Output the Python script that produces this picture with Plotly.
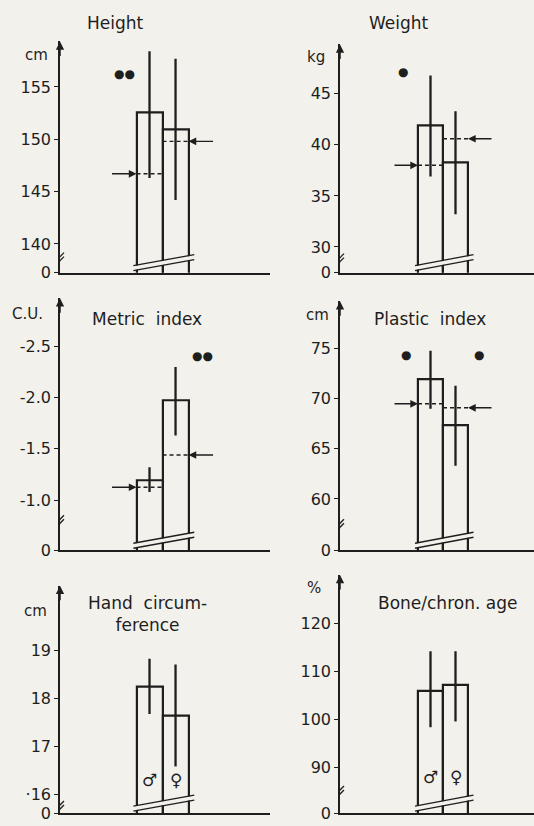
import plotly.graph_objects as go

W, H = 534, 826
BG = "#f3f1eb"
INK = "#1e1e1e"
FONT = "DejaVu Sans"

# ---------------- data ----------------
sexes = ["♂", "♀"]
bar_x = [0, 1]

height_mean = [152.6, 150.9]
height_hi = [158.4, 157.7]
height_lo = [146.3, 144.2]
height_ref = [146.7, 149.8]
height_ticks = [140, 145, 150, 155]
height_labels = ["140", "145", "150", "155"]

weight_mean = [41.9, 38.3]
weight_hi = [46.8, 43.3]
weight_lo = [36.9, 33.2]
weight_ref = [38.0, 40.6]
weight_ticks = [30, 35, 40, 45]
weight_labels = ["30", "35", "40", "45"]

metric_mean = [-1.19, -1.97]
metric_hi = [-1.32, -2.30]
metric_lo = [-1.08, -1.63]
metric_ref = [-1.125, -1.44]
metric_ticks = [-1.0, -1.5, -2.0, -2.5]
metric_labels = ["-1.0", "-1.5", "-2.0", "-2.5"]

plastic_mean = [71.9, 67.4]
plastic_hi = [74.8, 71.3]
plastic_lo = [69.0, 63.3]
plastic_ref = [69.5, 69.1]
plastic_ticks = [60, 65, 70, 75]
plastic_labels = ["60", "65", "70", "75"]

hand_mean = [18.23, 17.63]
hand_hi = [18.82, 18.70]
hand_lo = [17.67, 16.58]
hand_ticks = [16, 17, 18, 19]
hand_labels = ["·16", "17", "18", "19"]

bone_mean = [105.9, 107.2]
bone_hi = [114.2, 114.2]
bone_lo = [98.4, 99.6]
bone_ticks = [90, 100, 110, 120]
bone_labels = ["90", "100", "110", "120"]

# significance marks: (x position in bar units, value, symbol)
height_sig = [(-0.95, 156.2, "●●")]
weight_sig = [(-1.1, 47.1, "●")]
metric_sig = [(2.05, -2.41, "●●")]
plastic_sig = [(-1.0, 74.4, "●"), (1.95, 74.4, "●")]

# ---------------- layout of panels (pixels) ----------------
LEFT_X = (60, 270, [-3.44, 4.63])
RIGHT_X = (340, 534, [-3.62, 4.14])

panels = [
    dict(title="Height", unit="cm", mean=height_mean, hi=height_hi, lo=height_lo,
         ref=height_ref, ticks=height_ticks, labels=height_labels,
         yr=[137.26, 159.34], xs=LEFT_X, ypx=(42, 276), title_xy=(115, 23),
         unit_xy=(36, 56), sig=height_sig, sym=False, ybreak=14),
    dict(title="Weight", unit="kg", mean=weight_mean, hi=weight_hi, lo=weight_lo,
         ref=weight_ref, ticks=weight_ticks, labels=weight_labels,
         yr=[27.48, 49.84], xs=RIGHT_X, ypx=(45, 276), title_xy=(399, 23),
         unit_xy=(316, 58), sig=weight_sig, sym=False, ybreak=13),
    dict(title="Metric  index", unit="C.U.", mean=metric_mean, hi=metric_hi, lo=metric_lo,
         ref=metric_ref, ticks=metric_ticks, labels=metric_labels,
         yr=[-0.51, -2.97], xs=LEFT_X, ypx=(302, 557), title_xy=(147, 323),
         unit_xy=(27, 318), sig=metric_sig, sym=False, ybreak=29),
    dict(title="Plastic  index", unit="cm", mean=plastic_mean, hi=plastic_hi, lo=plastic_lo,
         ref=plastic_ref, ticks=plastic_ticks, labels=plastic_labels,
         yr=[54.87, 79.74], xs=RIGHT_X, ypx=(305, 557), title_xy=(430, 323),
         unit_xy=(317, 319), sig=plastic_sig, sym=False, ybreak=25),
    dict(title="Hand  circum-<br>ference", unit="cm", mean=hand_mean, hi=hand_hi, lo=hand_lo,
         ref=None, ticks=hand_ticks, labels=hand_labels,
         yr=[15.61, 20.34], xs=LEFT_X, ypx=(593, 823), title_xy=(147, 622),
         unit_xy=(35, 618), sig=[], sym=33, ybreak=6),
    dict(title="Bone/chron. age", unit="%", mean=bone_mean, hi=bone_hi, lo=bone_lo,
         ref=None, ticks=bone_ticks, labels=bone_labels,
         yr=[80.55, 130.07], xs=RIGHT_X, ypx=(582, 823), title_xy=(447, 610),
         unit_xy=(314, 595), sig=[], sym=36, ybreak=21),
]

fig = go.Figure()
annotations = []
shapes = []
layout_axes = {}

for i, p in enumerate(panels, start=1):
    xn = "x" if i == 1 else f"x{i}"
    yn = "y" if i == 1 else f"y{i}"
    xl = "xaxis" if i == 1 else f"xaxis{i}"
    yl = "yaxis" if i == 1 else f"yaxis{i}"
    x0px, x1px, xr = p["xs"]
    t_px, b_px = p["ypx"]
    yr = p["yr"]

    up = [max(h, l) - m for h, l, m in zip(p["hi"], p["lo"], p["mean"])]
    dn = [m - min(h, l) for h, l, m in zip(p["hi"], p["lo"], p["mean"])]
    fig.add_trace(go.Bar(
        x=bar_x, y=p["mean"], width=1, xaxis=xn, yaxis=yn, showlegend=False,
        marker=dict(color=BG, line=dict(color=INK, width=2.2)),
        error_y=dict(type="data", array=up, arrayminus=dn, symmetric=False,
                     width=0, thickness=2.3, color=INK),
        hovertext=sexes,
    ))

    # reference values: dashed line over the bar + arrow pointing at it
    if p["ref"] is not None:
        for j, r in enumerate(p["ref"]):
            fig.add_trace(go.Scatter(
                x=[bar_x[j] - 0.5, bar_x[j] + 0.5], y=[r, r], mode="lines",
                xaxis=xn, yaxis=yn, showlegend=False, hoverinfo="skip",
                line=dict(color=INK, width=1.4, dash="4px,3px"),
            ))
            side = -1 if j == 0 else 1
            edge = bar_x[j] + side * 0.5
            annotations.append(dict(
                x=edge, y=r, xref=xn, yref=yn, ax=edge + side * 1.0, ay=r,
                axref=xn, ayref=yn, text="", showarrow=True, arrowhead=2,
                arrowsize=1.1, arrowwidth=1.4, arrowcolor=INK, standoff=0,
            ))

    # significance dots
    for sx, sy, st in p["sig"]:
        annotations.append(dict(x=sx, y=sy, xref=xn, yref=yn, text=st, showarrow=False,
                                font=dict(size=12, color=INK, family=FONT)))

    # sex symbols inside bars
    if p["sym"]:
        for j, s in enumerate(sexes):
            annotations.append(dict(x=bar_x[j], y=yr[0], xref=xn, yref=yn, text=s,
                                    yshift=p["sym"], showarrow=False,
                                    font=dict(size=17, color=INK, family=FONT)))

    # title and unit
    tx, ty = p["title_xy"]
    annotations.append(dict(x=tx / W, y=1 - ty / H, xref="paper", yref="paper",
                            text=p["title"], showarrow=False, xanchor="center",
                            yanchor="middle", font=dict(size=17, color=INK, family=FONT)))
    ux, uy = p["unit_xy"]
    annotations.append(dict(x=ux / W, y=1 - uy / H, xref="paper", yref="paper",
                            text=p["unit"], showarrow=False, xanchor="center",
                            yanchor="middle", font=dict(size=15, color=INK, family=FONT)))

    # arrow head on top of the y axis
    annotations.append(dict(x=xr[0], y=yr[1], xref=xn, yref=yn, ax=0, ay=16,
                            text="", showarrow=True, arrowhead=2, arrowsize=1.1,
                            arrowwidth=1.5, arrowcolor=INK, standoff=0))

    # small extension of the x axis to the left of the y axis
    shapes.append(dict(type="line", xref=xn, yref=yn, xsizemode="pixel",
                       xanchor=xr[0], x0=-5, x1=0, y0=yr[0], y1=yr[0],
                       line=dict(color=INK, width=1.5)))

    # broken-axis mark on the y axis
    for off in (-2, 2):
        shapes.append(dict(type="line", xref=xn, yref=yn, xsizemode="pixel",
                           ysizemode="pixel", xanchor=xr[0], yanchor=yr[0],
                           x0=-4, x1=4, y0=p["ybreak"] + off - 4, y1=p["ybreak"] + off + 4,
                           line=dict(color=INK, width=1.3)))
    # broken-bar mark across the bars
    shapes.append(dict(type="line", xref=xn, yref=yn, ysizemode="pixel",
                       yanchor=yr[0], x0=-0.62, x1=1.72, y0=4.5, y1=15.5,
                       line=dict(color=BG, width=4)))
    for yo in (2, 7):
        shapes.append(dict(type="line", xref=xn, yref=yn, ysizemode="pixel",
                           yanchor=yr[0], x0=-0.62, x1=1.72, y0=yo, y1=yo + 11,
                           line=dict(color=INK, width=1.3)))

    layout_axes[xl] = dict(domain=[x0px / W, x1px / W], range=xr, anchor=yn,
                           showline=True, linecolor=INK, linewidth=1.5,
                           showticklabels=False, ticks="", showgrid=False,
                           zeroline=False, fixedrange=True)
    layout_axes[yl] = dict(domain=[1 - b_px / H, 1 - t_px / H], range=yr, anchor=xn,
                           showline=True, linecolor=INK, linewidth=1.5,
                           tickvals=[yr[0]] + p["ticks"], ticktext=["0"] + p["labels"],
                           ticks="outside", ticklen=4, tickwidth=1.3, tickcolor=INK,
                           showgrid=False, zeroline=False, fixedrange=True,
                           tickfont=dict(size=16, color=INK, family=FONT))

fig.update_layout(
    width=W, height=H, margin=dict(l=0, r=0, t=0, b=0),
    paper_bgcolor=BG, plot_bgcolor=BG, showlegend=False,
    font=dict(family=FONT, color=INK),
    annotations=annotations, shapes=shapes, bargap=0,
    **layout_axes,
)

fig.write_html("out.html", config={"displayModeBar": False},
               post_script="document.body.style.margin='0';document.body.style.background='%s';" % BG)
